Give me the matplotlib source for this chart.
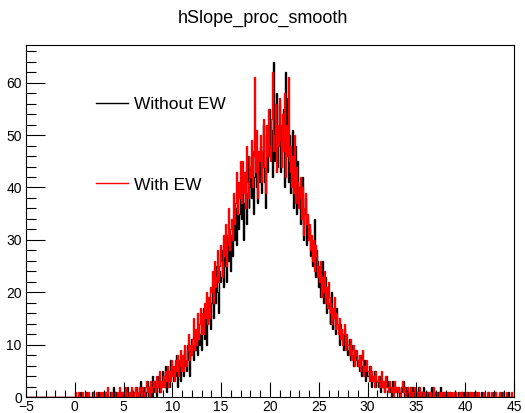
import numpy as np
import matplotlib
matplotlib.use("Agg")
import matplotlib.pyplot as plt
from matplotlib.ticker import MultipleLocator

plt.rcParams['font.family'] = ['Liberation Sans', 'DejaVu Sans']

# histogram: 500 bins from -5 to 45, values below are the bins from 0 to 45,
# one row per unit of x (10 bins of 0.1)
xmin, xmax, nbins = -5.0, 45.0, 500
first_x = 0

without_ew = [
    "0 0 0 0 0 1 0 0 0 0", "0 0 1 0 0 0 0 0 1 0", "0 0 0 0 1 0 0 0 0 0",
    "1 0 0 0 0 0 1 0 0 2", "0 1 0 0 0 1 0 0 1 0", "0 0 1 0 2 0 0 1 0 1",
    "1 0 0 2 0 1 0 3 1 0", "2 1 0 1 3 0 2 1 0 4", "1 3 2 0 2 4 1 3 2 5",
    "3 2 6 1 4 3 5 2 7 4", "5 3 6 4 8 2 5 7 3 6", "7 4 9 6 5 10 7 4 8 11",
    "10 7 13 9 12 8 14 10 12 9", "14 17 11 15 10 18 14 16 19 13",
    "18 21 15 23 18 25 20 16 24 22", "23 28 21 30 25 22 31 26 29 24",
    "31 27 34 30 36 29 38 32 35 41", "34 41 30 37 43 33 39 46 36 40",
    "44 38 47 35 42 49 40 37 45 41", "48 39 44 52 41 36 50 43 46 55",
    "47 51 42 64 45 53 58 44 49 56", "43 52 47 55 40 62 48 57 41 50",
    "46 39 44 51 36 42 48 35 45 38", "40 33 37 42 30 35 38 29 34 31",
    "32 27 30 25 29 34 23 28 26 21", "24 19 22 26 18 20 23 16 21 17",
    "18 14 17 20 13 16 15 12 17 14", "13 10 14 11 12 9 13 10 11 8",
    "9 11 7 10 8 6 9 7 8 6", "7 5 8 4 6 5 7 3 5 4", "4 6 3 5 2 4 3 5 2 3",
    "3 2 4 1 3 2 3 1 2 4", "2 3 1 2 0 3 1 2 1 2", "1 2 0 1 2 1 3 0 2 1",
    "2 0 1 2 1 0 2 1 0 1", "1 0 2 0 1 1 0 2 1 0", "0 1 0 1 0 2 0 1 0 1",
    "1 0 1 0 2 0 0 1 0 1", "0 1 0 0 1 0 1 0 0 1", "1 0 0 1 0 0 1 0 1 0",
    "0 0 1 0 0 1 0 0 0 1", "0 1 0 0 0 0 1 0 0 0", "0 0 0 1 0 0 0 0 1 0",
    "0 1 0 0 0 0 0 1 0 0", "0 0 0 0 1 0 0 0 0 0",
]

with_ew = [
    "1 0 0 1 0 0 0 1 0 0", "0 1 0 0 1 0 0 0 0 1", "0 0 1 0 0 0 1 0 1 0",
    "0 1 0 2 0 0 0 1 0 0", "1 0 0 1 0 2 0 1 0 1", "0 2 0 1 0 0 1 0 2 0",
    "0 1 2 0 1 0 2 1 0 2", "1 0 2 3 1 2 0 3 1 2", "3 2 1 4 2 3 5 1 3 2",
    "4 2 5 3 6 4 2 5 3 7", "4 6 3 7 5 8 4 6 9 5", "8 5 10 7 6 9 12 7 10 8",
    "11 15 9 13 10 16 11 14 17 12", "16 12 18 15 20 14 17 19 15 21",
    "20 24 18 26 21 23 28 22 25 29", "26 23 31 27 33 25 29 36 28 32",
    "34 30 39 33 37 43 35 41 38 45", "37 45 39 43 36 48 41 38 46 44",
    "42 49 40 46 61 43 51 38 47 45", "50 41 47 53 44 39 52 46 55 48",
    "45 53 62 47 50 56 43 52 48 57", "49 44 54 47 58 42 52 46 61 45",
    "43 48 40 46 39 50 37 44 41 36", "38 42 34 40 31 36 39 33 35 30",
    "33 28 31 26 30 24 29 27 23 25", "22 26 19 23 20 24 18 21 17 22",
    "19 16 18 14 17 15 19 13 16 14", "12 15 11 13 10 12 14 9 12 10",
    "10 8 11 7 9 10 6 8 9 7", "6 8 5 7 9 4 6 5 7 5", "5 3 6 4 5 3 4 2 5 3",
    "3 4 2 3 5 2 3 1 4 2", "2 1 3 2 1 2 0 3 1 2", "1 2 1 0 2 3 1 2 0 1",
    "2 1 0 2 1 1 0 1 2 0", "1 0 1 2 0 1 1 0 1 0", "0 1 1 0 1 0 0 2 0 1",
    "1 0 0 1 0 1 0 0 1 0", "0 1 0 1 0 0 1 0 0 1", "1 0 0 0 1 0 1 0 0 0",
    "0 1 0 0 1 0 0 1 0 0", "1 0 0 1 0 0 0 0 1 0", "0 0 1 0 0 0 1 0 0 0",
    "0 1 0 0 0 1 0 0 0 1", "0 0 1 0 0 0 0 1 0 0",
]

labels = ["Without EW", "With EW"]
colors = ["black", "red"]


def to_counts(rows):
    counts = np.zeros(nbins)
    for i, row in enumerate(rows):
        for j, v in enumerate(row.split()):
            k = int(round((first_x + i - xmin) * 10)) + j
            if k < nbins:
                counts[k] = float(v)
    return counts


edges = np.linspace(xmin, xmax, nbins + 1)

fig = plt.figure(figsize=(5.25, 4.13), dpi=100)
ax = fig.add_axes([0.0495, 0.0387, 0.9295, 0.8523])

for rows, lab, col in zip([without_ew, with_ew], labels, colors):
    ax.stairs(to_counts(rows), edges, color=col, lw=1.0, label=lab, baseline=0)

ax.set_xlim(xmin, xmax)
ax.set_ylim(0, 67.2)
ax.xaxis.set_major_locator(MultipleLocator(5))
ax.xaxis.set_minor_locator(MultipleLocator(1))
ax.yaxis.set_major_locator(MultipleLocator(10))
ax.yaxis.set_minor_locator(MultipleLocator(2))
ax.tick_params(which='both', direction='in', top=False, right=False,
               labelsize=10, pad=2, width=0.8)
ax.tick_params(axis='y', which='major', length=14, pad=3)
ax.tick_params(axis='y', which='minor', length=7)
ax.tick_params(axis='x', which='major', length=11)
ax.tick_params(axis='x', which='minor', length=5)
for s in ax.spines.values():
    s.set_linewidth(0.8)

fig.text(0.5, 0.955, "hSlope_proc_smooth", ha='center', va='center', fontsize=13)

ax.legend(frameon=False, loc='upper left', bbox_to_anchor=(0.143, 0.852),
          borderpad=0, borderaxespad=0, fontsize=12.5, labelspacing=3.75,
          handlelength=1.85, handletextpad=0.35)

plt.savefig("out.png", dpi=100)
